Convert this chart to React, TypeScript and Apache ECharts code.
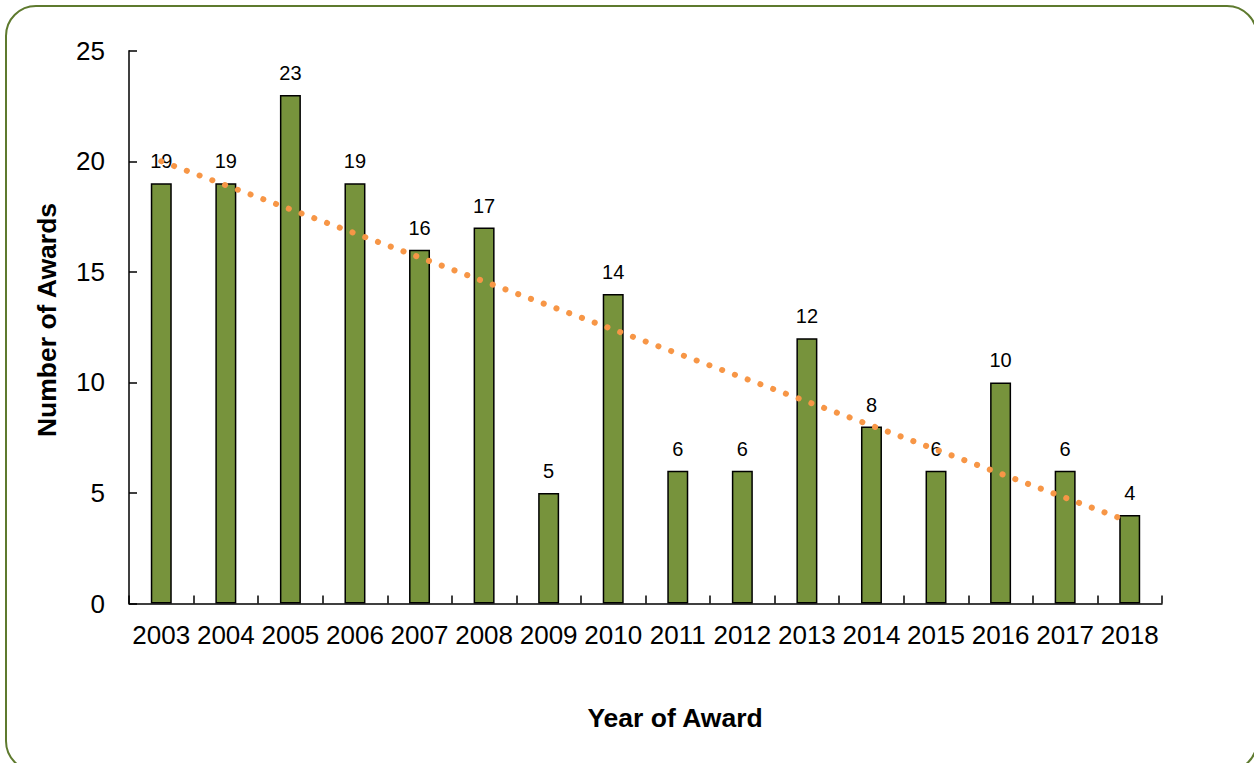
import React, { useEffect, useRef } from "react";
import * as echarts from "echarts";

const years = ["2003","2004","2005","2006","2007","2008","2009","2010","2011","2012","2013","2014","2015","2016","2017","2018"];
const awards = [19, 19, 23, 19, 16, 17, 5, 14, 6, 6, 12, 8, 6, 10, 6, 4];
// linear trend line endpoints
const trendStart = 20.0;
const trendEnd = 3.7;
const yTicks = { min: 0, max: 25, interval: 5 };

export default function App() {
  const ref = useRef<HTMLDivElement>(null);
  useEffect(() => {
    document.body.style.margin = "0";
    const chart = echarts.init(ref.current!, null, { renderer: "svg" });
    const font = "Arial, 'Liberation Sans', sans-serif";
    chart.setOption({
      animation: false,
      backgroundColor: "#ffffff",
      grid: { left: 129, top: 50.7, right: 92, bottom: 159.5, containLabel: false },
      graphic: [
        {
          type: "rect",
          shape: { x: 6, y: 6, width: 1251, height: 765, r: 30 },
          style: { fill: "none", stroke: "#5E7A2E", lineWidth: 2 },
          silent: true,
        },
        {
          type: "text",
          x: 675,
          y: 718,
          style: { text: "Year of Award", font: `bold 26.5px ${font}`, fill: "#000", align: "center", verticalAlign: "middle" },
        },
        {
          type: "text",
          x: 47,
          y: 320,
          rotation: Math.PI / 2,
          style: { text: "Number of Awards", font: `bold 26.5px ${font}`, fill: "#000", align: "center", verticalAlign: "middle" },
        },
      ],
      xAxis: {
        type: "category",
        data: years,
        boundaryGap: true,
        axisLine: { lineStyle: { color: "#000", width: 1.5 } },
        axisTick: { show: true, inside: true, length: 8, alignWithLabel: false, lineStyle: { color: "#000", width: 1.5 } },
        axisLabel: { color: "#000", fontSize: 26, fontFamily: font, margin: 18, interval: 0 },
        splitLine: { show: false },
      },
      yAxis: {
        type: "value",
        min: yTicks.min,
        max: yTicks.max,
        interval: yTicks.interval,
        axisLine: { show: true, lineStyle: { color: "#000", width: 1.5 } },
        axisTick: { show: true, inside: true, length: 8, lineStyle: { color: "#000", width: 1.5 } },
        axisLabel: { color: "#000", fontSize: 26, fontFamily: font, margin: 24 },
        splitLine: { show: false },
      },
      series: [
        {
          type: "bar",
          data: awards,
          barWidth: "32.5%",
          itemStyle: { color: "#77933C", borderColor: "#000", borderWidth: 1.5 },
          label: { show: true, position: "top", distance: 12, color: "#000", fontSize: 20, fontFamily: font },
        },
        {
          type: "line",
          data: [[years[0], trendStart], [years[years.length - 1], trendEnd]],
          symbol: "none",
          z: 5,
          lineStyle: { color: "#F79646", width: 6, type: [0.1, 13.5], cap: "round" },
        },
      ],
    });
    return () => chart.dispose();
  }, []);
  return <div ref={ref} style={{ width: 1254, height: 763 }} />;
}
